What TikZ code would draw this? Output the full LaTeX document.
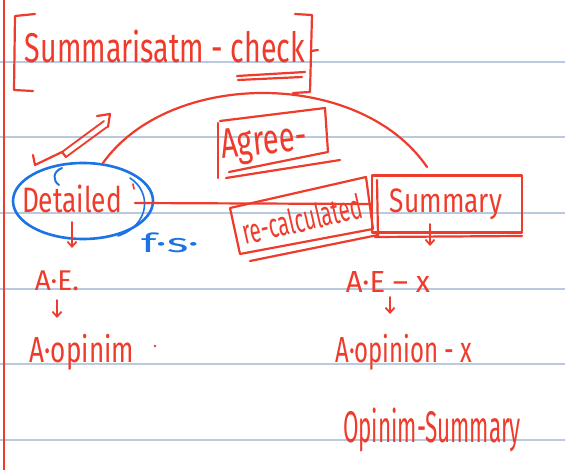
\documentclass[tikz,border=0pt]{standalone}
\usepackage{fontspec}
\setmainfont{Fira Sans}
\usetikzlibrary{shapes.geometric,arrows.meta}
\definecolor{ink}{HTML}{EE3B2B}
\definecolor{bink}{HTML}{1C74E4}
\definecolor{rule}{HTML}{B9C9DE}
\newcommand\hw[3]{\resizebox*{#1pt}{#2pt}{#3}}
\tikzset{
  pen/.style={draw=ink, line width=2.2pt, line cap=round, line join=round},
  bpen/.style={draw=bink, line width=2.6pt, line cap=round, line join=round},
  txt/.style={text=ink, inner sep=0pt},
  btxt/.style={text=bink, inner sep=0pt},
  down/.style={pen, line width=1.8pt, -{Straight Barb[length=5pt,width=9pt]}},
}
\begin{document}
\begin{tikzpicture}[x=1pt,y=-1pt]
\useasboundingbox (0,0) rectangle (565,470);
\fill[white] (0,0) rectangle (565,470);
% ruled paper
\foreach \yy in {62,137,213,289,364,440}
  \draw[rule, line width=1.3pt] (0,\yy) -- (565,\yy);
\draw[ink, line width=1.6pt] (4,0) -- (4,470);

% title
\node[txt] (title) at (165,46) {\hw{280}{33}{Summarisatm - check}};
\draw[pen] (35,14) -- (15,16) -- (14,90) -- (33,91);
\draw[pen] (295,14) -- (312,15) -- (310,92) -- (293,93);
\draw[pen] (311,51) -- (318,50);
\draw[pen] (237,76) -- (305,72);
\draw[pen] (238,80) -- (302,77);

% hollow arrow
\draw[pen] (33,155) -- (35,165) -- (62,152);
\draw[pen, line width=1.8pt] (62,152) -- (104,121);
\draw[pen, line width=1.8pt] (66,157) -- (107,127);
\draw[pen] (97,116) -- (110,114) -- (108,127);
\draw[pen] (62,152) -- (66,157);

% Detailed
\node[ellipse, bpen, minimum width=140pt, minimum height=76pt] (det) at (83,201) {};
\draw[bpen, line width=1.6pt] (130,178) .. controls (152,192) and (150,225) .. (118,236);
\node[txt] (dett) at (72,199) {\hw{100}{28}{Detailed}};
\draw[bpen, line width=2pt] (62,168) .. controls (52,172) and (53,181) .. (59,185);
\draw[pen, line width=1.6pt] (133,184) -- (134,189);
\node[btxt] (fs) at (170,243) {\hw{58}{20}{f·s·}};

% Summary box
\node[pen, minimum width=150pt, minimum height=57pt, inner sep=0pt] (sum) at (447,204) {};
\node[txt] (sumt) at (446,204) {\hw{112}{31}{Summary}};
\draw[pen] (375,237) -- (522,236);
\draw[pen] (377,180) -- (378,236);

% arc connector
\coordinate (arcA) at (103,163);
\coordinate (arcB) at (427,167);
\draw[pen] (arcA) .. controls (170,69) and (360,69) .. (arcB);

% horizontal connector
\coordinate (lineA) at (135,203);
\draw[pen] (lineA) -- (sum.west);

% Agree box
\node[txt, rotate=6] (agr) at (264,144) {\hw{86}{38}{Agree-}};
\draw[pen] (218,123) -- (218,178);
\draw[pen] (220,121) -- (325,108) -- (328,152) -- (229,172);
\draw[pen] (226,178) -- (340,160);

% re-calculated box
\node[txt, rotate=13] (rec) at (302,219) {\hw{122}{26}{re-calculated}};
\draw[pen] (230,208) -- (366,177) -- (373,229) -- (240,254) -- cycle;
\draw[pen] (250,261) -- (378,235);

% small arrows
\draw[down] (72,222) -- (72,248);
\draw[down] (430,224) -- (430,246);

% left column
\node[txt] (ae1) at (57,281) {\hw{44}{20}{A·E.}};
\draw[down] (57,300) -- (57,318);
\node[txt] (op1) at (82,352) {\hw{104}{36}{A·opinim}};
\fill[ink] (155,346) circle (1.4pt);

% right column
\node[txt] (ae2) at (388,282) {\hw{84}{21}{A·E – x}};
\draw[down] (390,297) -- (390,314);
\node[txt] (op2) at (404,352) {\hw{137}{36}{A·opinion - x}};
\node[txt] (os) at (432,430) {\hw{178}{44}{Opinim-Summary}};
\end{tikzpicture}
\end{document}
